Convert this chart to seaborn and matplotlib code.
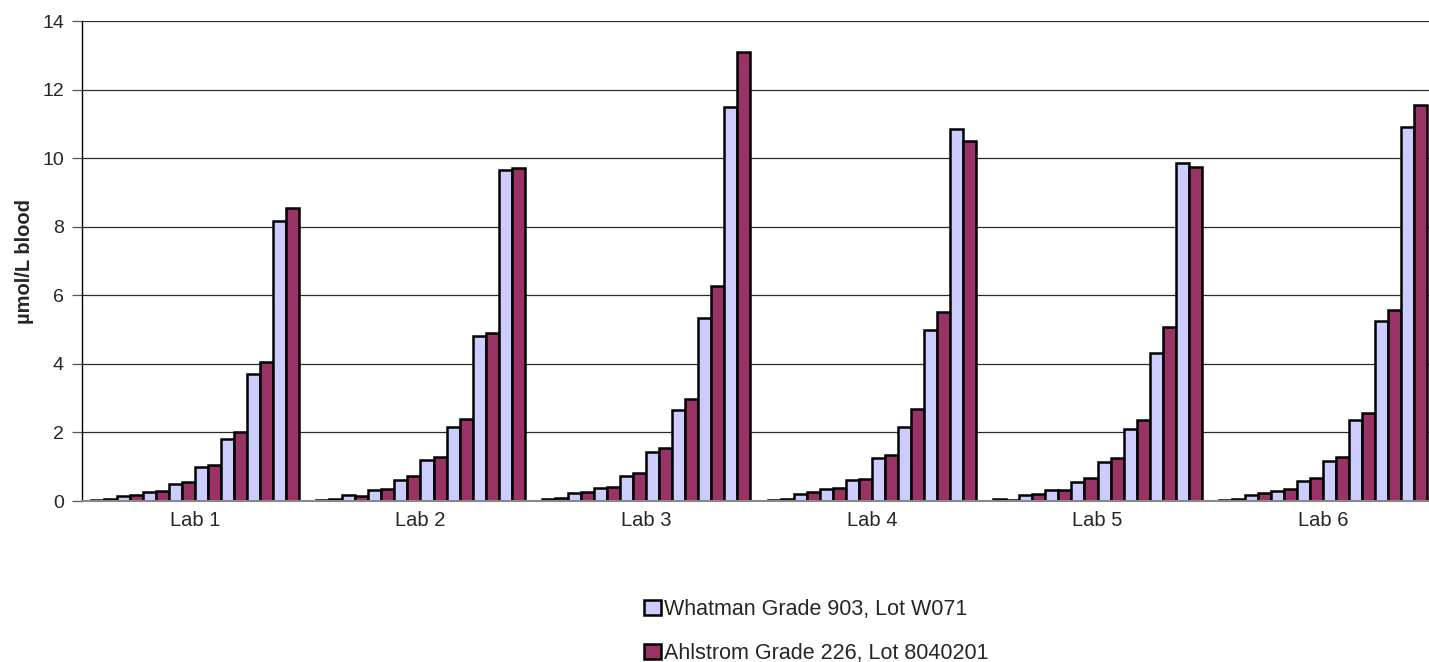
import pandas as pd
import matplotlib.pyplot as plt
import seaborn as sns
from matplotlib.patches import Patch

# ---- data (8 levels per lab, two papers) ----
labs = ['Lab 1', 'Lab 2', 'Lab 3', 'Lab 4', 'Lab 5', 'Lab 6']
series_names = ['Whatman Grade 903, Lot W071', 'Ahlstrom Grade 226, Lot 8040201']

whatman = [
    [0.02, 0.16, 0.26, 0.49, 0.98, 1.82, 3.70, 8.18],
    [0.03, 0.18, 0.31, 0.60, 1.21, 2.15, 4.80, 9.65],
    [0.05, 0.22, 0.38, 0.74, 1.42, 2.65, 5.34, 11.49],
    [0.03, 0.19, 0.35, 0.61, 1.25, 2.16, 4.99, 10.85],
    [0.05, 0.18, 0.31, 0.56, 1.13, 2.11, 4.33, 9.85],
    [0.03, 0.18, 0.29, 0.58, 1.17, 2.36, 5.25, 10.90],
]
ahlstrom = [
    [0.05, 0.18, 0.29, 0.54, 1.06, 2.00, 4.04, 8.54],
    [0.06, 0.15, 0.36, 0.74, 1.28, 2.38, 4.89, 9.71],
    [0.09, 0.25, 0.42, 0.82, 1.55, 2.97, 6.27, 13.09],
    [0.07, 0.25, 0.39, 0.64, 1.34, 2.69, 5.51, 10.50],
    [0.04, 0.21, 0.31, 0.67, 1.25, 2.36, 5.07, 9.74],
    [0.07, 0.22, 0.34, 0.66, 1.28, 2.58, 5.57, 11.55],
]

col_whatman = '#CCCCFF'
col_ahlstrom = '#993366'

# ---- long table: one hue key per level/paper so the bars sit side by side ----
rows = []
for i, lab in enumerate(labs):
    for lvl in range(8):
        rows.append({'lab': lab, 'key': f'{lvl}W', 'value': whatman[i][lvl]})
        rows.append({'lab': lab, 'key': f'{lvl}A', 'value': ahlstrom[i][lvl]})
df = pd.DataFrame(rows)
keys = [f'{lvl}{p}' for lvl in range(8) for p in 'WA']
paleta = {k: (col_whatman if k.endswith('W') else col_ahlstrom) for k in keys}

sns.set_style('white')
plt.rcParams['font.family'] = ['Liberation Sans', 'DejaVu Sans']

fig = plt.figure(figsize=(14.29, 6.62), dpi=100)
ax = fig.add_axes([82 / 1429, 161 / 662, 1354 / 1429, 480 / 662])

sns.barplot(data=df, x='lab', y='value', hue='key', hue_order=keys,
            palette=paleta, width=0.922, gap=0, edgecolor='black',
            linewidth=1.8, errorbar=None, legend=False, ax=ax, saturation=1)

ax.set_ylim(0, 14)
ax.set_yticks(range(0, 15, 2))
ax.set_xlim(-0.5, len(labs) - 0.5)
ax.set_axisbelow(True)
ax.yaxis.grid(True, color='#2a2a2a', linewidth=0.9)
ax.xaxis.grid(False)

for s in ['top', 'right']:
    ax.spines[s].set_visible(False)
ax.spines['left'].set_color('black')
ax.spines['left'].set_linewidth(1.0)
ax.spines['bottom'].set_color('#888888')
ax.spines['bottom'].set_linewidth(1.5)

ax.tick_params(axis='y', which='both', left=True, length=7, width=0.9,
               color='#555555', labelsize=14, pad=6)
ax.tick_params(axis='x', length=0, labelsize=14.5, pad=7)
ax.set_xlabel('')
ax.set_ylabel('µmol/L blood', fontsize=14.5, fontweight='bold', labelpad=6)

handles = [Patch(facecolor=col_whatman, edgecolor='black', linewidth=1.8),
           Patch(facecolor=col_ahlstrom, edgecolor='black', linewidth=1.8)]
fig.legend(handles, series_names, loc='upper left',
           bbox_to_anchor=(644 / 1429, 1 - 599 / 662), frameon=False,
           fontsize=15.5, handlelength=0.8, handleheight=0.7,
           handletextpad=0.12, labelspacing=1.05, borderpad=0, borderaxespad=0)

plt.savefig('out.png', dpi=100)
